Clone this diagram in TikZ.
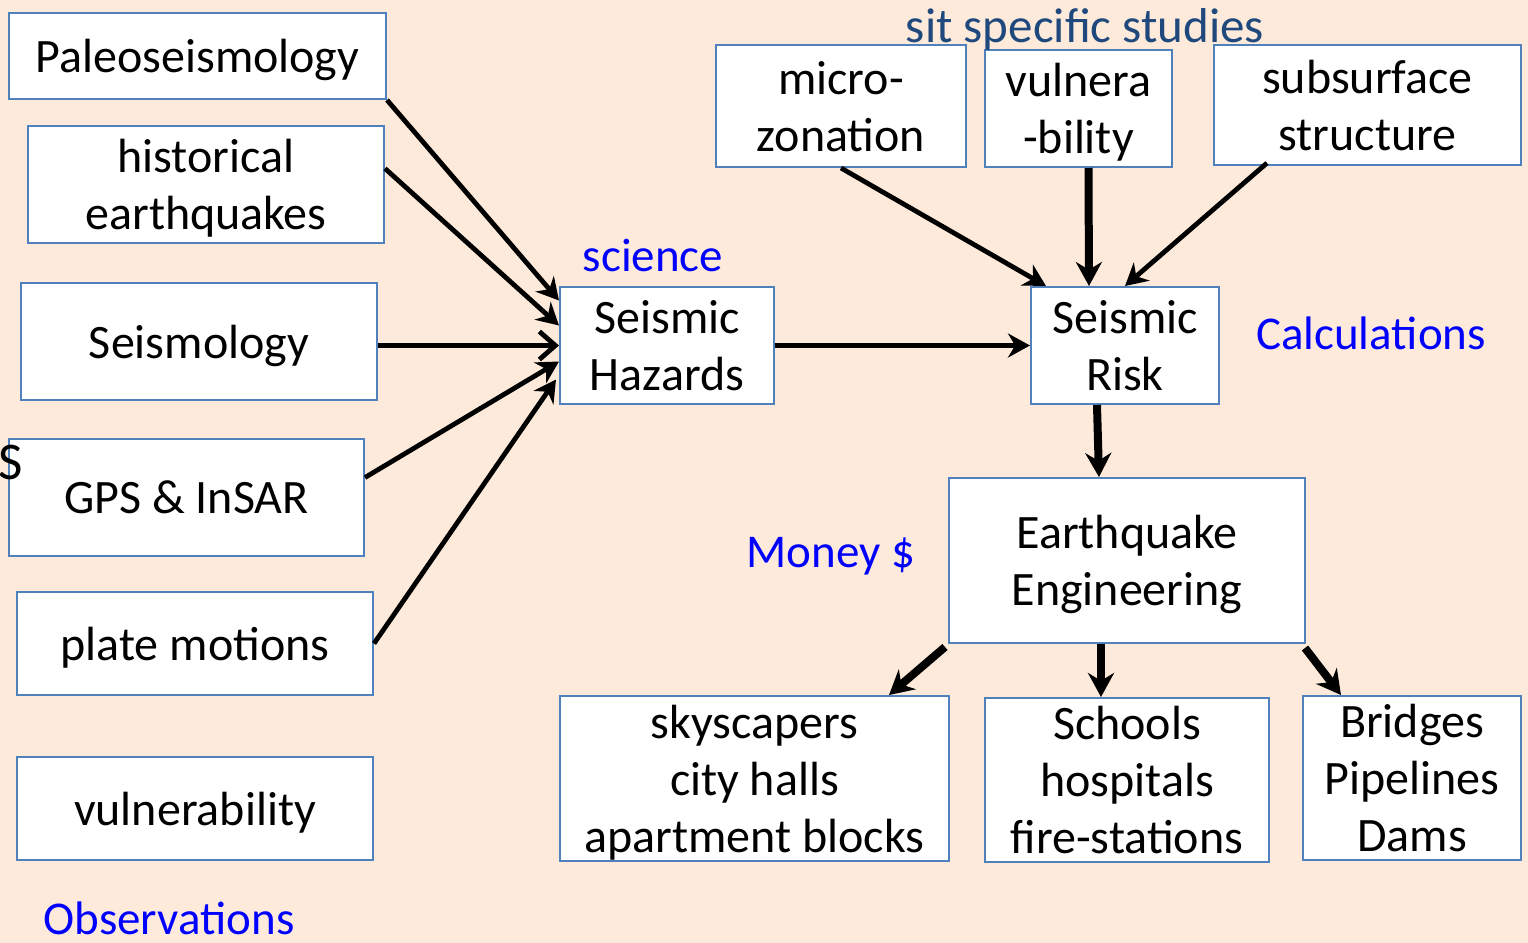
\documentclass[tikz,border=0pt]{standalone}
\usepackage{fontspec}
\setmainfont{Carlito}
\usepackage{xcolor}
\definecolor{peach}{RGB}{253,234,218}
\definecolor{boxblue}{RGB}{79,129,189}
\definecolor{darkblue}{RGB}{31,73,125}
\usepackage{tikz}
\usetikzlibrary{arrows.meta,calc}
\tikzstyle{box} = [draw=boxblue, fill=white, line width=1pt, text depth=-1.5pt,
  inner sep=0pt, align=center, font=\fontsize{24}{28.5}\selectfont]
\tikzstyle{note} = [inner sep=0pt, text=blue, font=\fontsize{23.5}{28}\selectfont]
\tikzstyle{thin} = [draw, line width=2.4pt, -{Stealth[length=11pt,width=12pt]}]
\tikzstyle{thick} = [draw, line width=4pt, -{Stealth[length=12pt,width=13pt]}]

\begin{document}
\begin{tikzpicture}[x=0.5pt, y=-0.5pt]
  \fill[peach] (0,0) rectangle (1528,943);
  \useasboundingbox (0,0) rectangle (1528,943);

  % observations
  \node[box, minimum width=188.5pt, minimum height=43pt] (paleo) at (197.5,56) {Paleoseismology};
  \node[box, minimum width=178pt, minimum height=58.5pt] (hist) at (206,184.5) {historical\\earthquakes};
  \node[box, minimum width=178pt, minimum height=58.5pt] (seis) at (199,341.5) {Seismology};
  \node[box, minimum width=177.5pt, minimum height=58.5pt] (gps) at (186.5,497.5) {GPS \& InSAR};
  \node[box, minimum width=178pt, minimum height=51.5pt] (plate) at (195,643.5) {plate motions};
  \node[box, minimum width=178pt, minimum height=51.5pt] (vuln) at (195,808.5) {vulnerability};
  \node[inner sep=0pt, anchor=west, font=\fontsize{26.5}{28}\selectfont] (s) at (-2,462) {S};

  % hazards and risk
  \node[box, minimum width=107pt, minimum height=58.5pt] (hz) at (667,345.5) {Seismic\\Hazards};
  \node[box, minimum width=94pt, minimum height=58.5pt] (risk) at (1125,345.5) {Seismic\\Risk};
  \node[box, minimum width=125pt, minimum height=61pt] (micro) at (841,106) {micro-\\zonation};
  \node[box, minimum width=93.5pt, minimum height=58.5pt] (vulb) at (1078.5,108.5) {vulnera\\-bility};
  \node[box, minimum width=153.5pt, minimum height=60pt] (subs) at (1367.5,105) {subsurface\\structure};

  % engineering
  \node[box, minimum width=178pt, minimum height=82.5pt] (eng) at (1127,560.5) {Earthquake\\Engineering};
  \node[box, minimum width=194.5pt, minimum height=82.5pt] (sky) at (754.5,778.5) {skyscapers\\city halls\\apartment blocks};
  \node[box, minimum width=142pt, minimum height=82pt] (school) at (1127,780) {Schools\\hospitals\\fire-stations};
  \node[box, minimum width=109pt, minimum height=82pt] (bridge) at (1412,778) {Bridges\\Pipelines\\Dams};

  % labels
  \node[note, text=darkblue, font=\fontsize{24.5}{28}\selectfont] (site) at (1085,29) {sit specific studies};
  \node[note] (sci) at (653,255) {science};
  \node[note] (calc) at (1371,333) {Calculations};
  \node[note] (money) at (831,556) {Money \$};
  \node[note] (obs) at (169,918) {Observations};

  \path[thin] (paleo.south east) -- ($(hz.west)+(0,-45)$);
  \path[thin] ($(hist.east)+(0,-16)$) -- ($(hz.west)+(0,-20)$);
  \path[draw, line width=2.4pt, -{Straight Barb[length=8pt,width=14pt,line width=2.4pt]}] (seis.east |- hz.west) -- (hz.west);
  \path[thin] ($(gps.east)+(0,-20)$) -- ($(hz.west)+(0,16)$);
  \path[thin] (plate.east) -- ($(hz.west)+(-3,34)$);
  \path[thin] (hz.east) -- (risk.west);
  \path[thin] (micro.south) -- ($(risk.north west)+(16,0)$);
  \path[thick] ($(vulb.south)+(10,0)$) -- ($(risk.north)+(-36,0)$);
  \path[thin] ($(subs.south west)+(54,-3)$) -- (risk.north);
  \path[thick] ($(risk.south)+(-28,0)$) -- ($(eng.north)+(-28,0)$);
  \path[thick] ($(eng.south west)+(-3,3)$) -- ($(sky.north east)+(-61,0)$);
  \path[thick] ($(eng.south)+(-26,0)$) -- ($(school.north)+(-26,0)$);
  \path[thick] ($(eng.south east)+(-1,4)$) -- ($(bridge.north west)+(39,0)$);
\end{tikzpicture}
\end{document}
